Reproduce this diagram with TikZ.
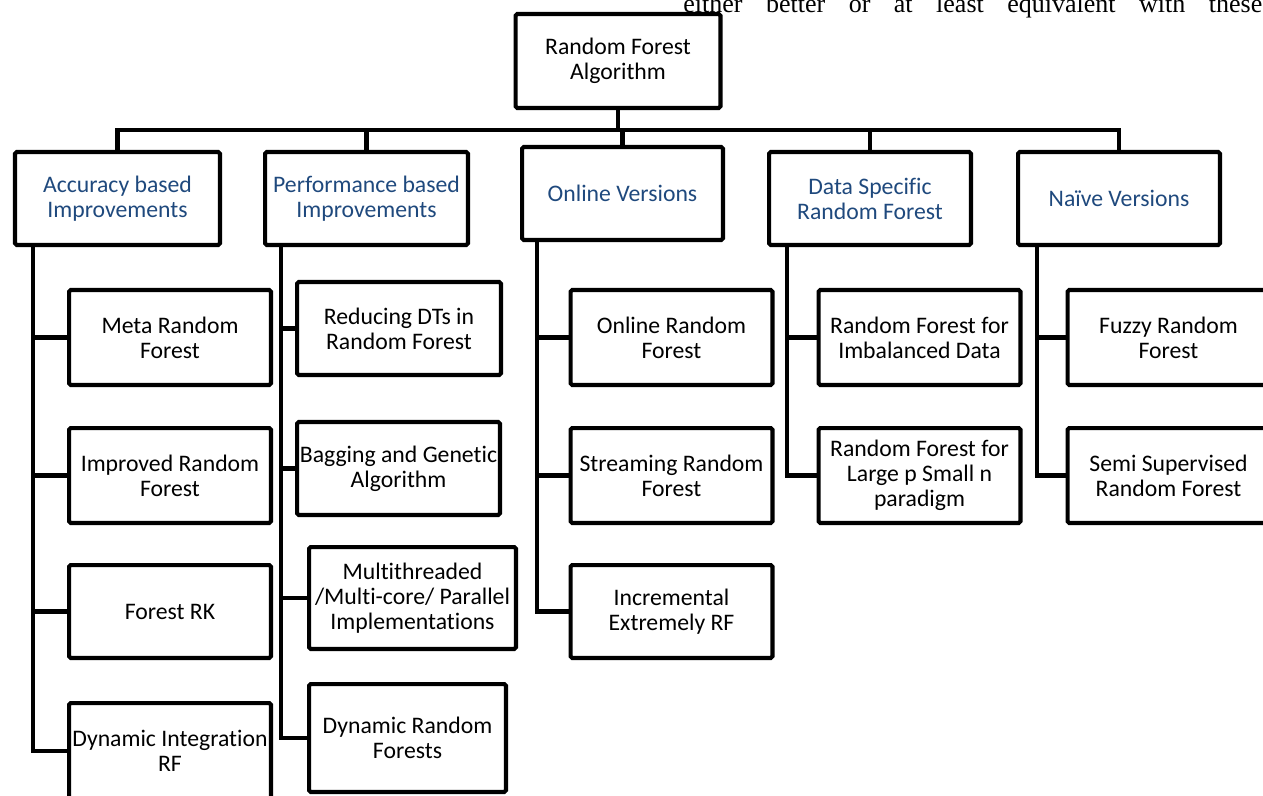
\documentclass[tikz,border=0pt]{standalone}
\usepackage{fontspec}
\usepackage{tikz}
\usetikzlibrary{positioning,calc}

\newfontfamily\calibri[Ligatures=NoCommon]{Carlito}
\newfontfamily\timesfont{Liberation Serif}
\newcommand{\rffont}{\calibri\fontsize{13.5}{14.2}\selectfont}
\definecolor{headblue}{RGB}{31,73,125}

\begin{document}
\begin{tikzpicture}[x=0.02cm,y=-0.02cm]
		\tikzstyle{box}=[draw, line width=2.3pt, rounded corners=1pt, align=center, inner sep=0pt, minimum width=4.04cm, minimum height=1.9cm, font=\rffont];
		\tikzstyle{topic}=[box, text=headblue];
		\tikzstyle{wire}=[line width=2.3pt];

		\useasboundingbox (0,0) rectangle (1263,795);

		% line of running text, cut at the top
		\node[anchor=base west, inner sep=0pt, font=\timesfont\fontsize{14.8}{16}\selectfont] (cut) at (683,12) {\makebox[11.58cm][s]{either better or at least equivalent with these}};

		\node[box, minimum width=4.1cm, minimum height=1.88cm] (root) at (618,61) {Random Forest\\Algorithm};

		\node[topic, minimum width=4.1cm, minimum height=1.86cm] (acc) at (117.5,198.5) {Accuracy based\\Improvements};
		\node[topic, minimum width=4.06cm, minimum height=1.86cm] (perf) at (366.5,198.5) {Performance based\\Improvements};
		\node[topic, minimum width=4.02cm, minimum height=1.86cm] (onl) at (622.5,193.5) {Online Versions};
		\node[topic, minimum width=4.04cm, minimum height=1.86cm] (dat) at (870,198.5) {Data Specific\\Random Forest};
		\node[topic, minimum width=4.04cm, minimum height=1.86cm] (nai) at (1119,198.5) {Naïve Versions};

		\node[box] (meta) at (170,337.5) {Meta Random\\Forest};
		\node[box] (impr) at (170,475.5) {Improved Random\\Forest};
		\node[box, minimum height=1.86cm] (frk) at (170,611.5) {Forest RK};
		\node[box, minimum height=1.92cm] (dint) at (170,751) {Dynamic Integration\\RF};

		\node[box, minimum width=4.08cm, minimum height=1.86cm] (red) at (399,328.5) {Reducing DTs in\\Random Forest};
		\node[box, minimum width=4.06cm, minimum height=1.86cm] (bag) at (398.5,468.5) {Bagging and Genetic\\Algorithm};
		\node[box, minimum width=4.14cm, minimum height=2.04cm] (mult) at (412.5,598) {Multithreaded\\/Multi-core/ Parallel\\Implementations};
		\node[box, minimum width=3.94cm, minimum height=2.16cm] (dyn) at (407.5,738) {Dynamic Random\\Forests};

		\node[box] (onrf) at (671.5,337.5) {Online Random\\Forest};
		\node[box] (strm) at (671.5,475.5) {Streaming Random\\Forest};
		\node[box, minimum height=1.86cm] (incr) at (671.5,611.5) {Incremental\\Extremely RF};

		\node[box] (imb) at (919.5,337.5) {Random Forest for\\Imbalanced Data};
		\node[box] (lpsn) at (919.5,475.5) {Random Forest for\\Large p Small n\\paradigm};

		\node[box] (fuz) at (1168.5,337.5) {Fuzzy Random\\Forest};
		\node[box] (semi) at (1168.5,475.5) {Semi Supervised\\Random Forest};

		\coordinate (bus) at (root.south |- 0,130);
		\draw[wire] (root.south) -- (bus);
		\foreach \n in {acc,perf,onl,dat,nai}
			\draw[wire] (bus) -| (\n.north);

		\foreach \c in {meta,impr,frk,dint}
			\draw[wire] ([xshift=0.4cm]acc.south west) |- (\c.west);
		\foreach \c in {red,bag,mult,dyn}
			\draw[wire] ([xshift=0.36cm]perf.south west) |- (\c.west);
		\foreach \c in {onrf,strm,incr}
			\draw[wire] ([xshift=0.34cm]onl.south west) |- (\c.west);
		\foreach \c in {imb,lpsn}
			\draw[wire] ([xshift=0.4cm]dat.south west) |- (\c.west);
		\foreach \c in {fuz,semi}
			\draw[wire] ([xshift=0.42cm]nai.south west) |- (\c.west);
	\end{tikzpicture}
\end{document}
